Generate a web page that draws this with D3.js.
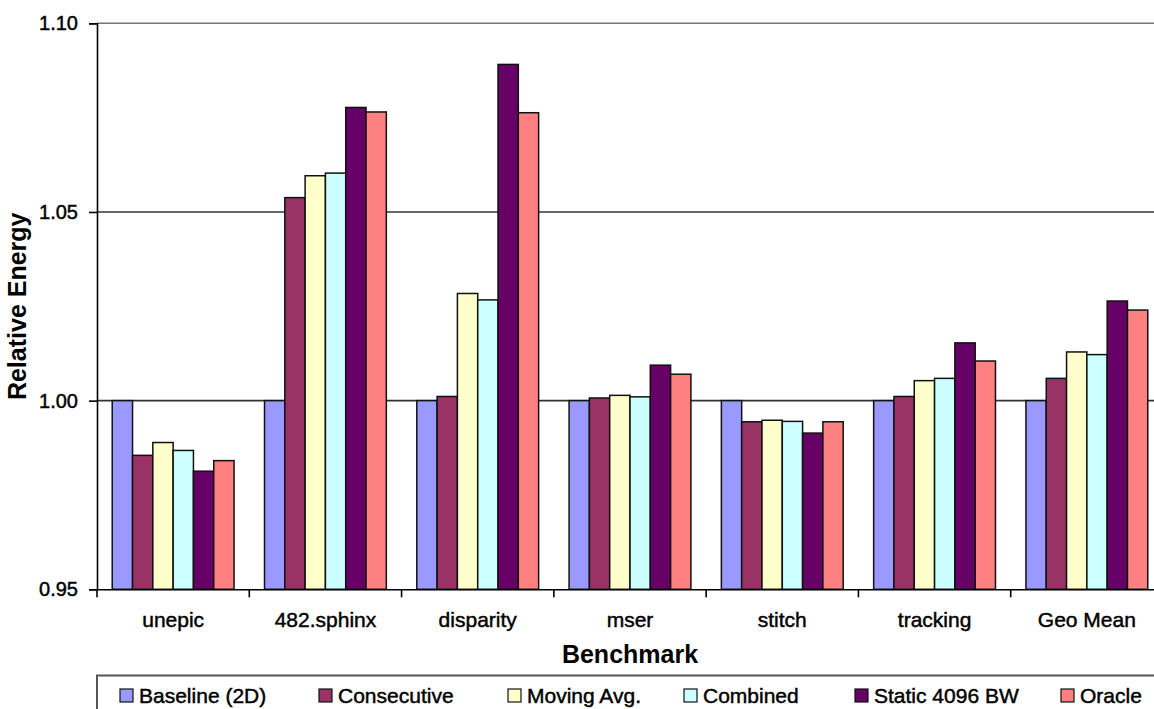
<!DOCTYPE html>
<html>
<head>
<meta charset="utf-8">
<script src="https://cdn.jsdelivr.net/npm/d3@7"></script>
<style>
  html, body { margin: 0; padding: 0; background: #fff; }
  svg { display: block; font-family: "Liberation Sans", Arial, sans-serif; }
  .heavy { stroke: #000; stroke-width: 0.45px; paint-order: fill; }
</style>
</head>
<body>
<svg id="chart" width="1154" height="709"></svg>
<script>
// Benchmarks along the category axis
const categories = ["unepic", "482.sphinx", "disparity", "mser", "stitch", "tracking", "Geo Mean"];

// Series names (legend order) and their fills
const seriesNames = ["Baseline (2D)", "Consecutive", "Moving Avg.", "Combined", "Static 4096 BW", "Oracle"];
const seriesColors = ["#9999FF", "#993366", "#FFFFCC", "#CCFFFF", "#660066", "#FF8080"];

// Relative energy per benchmark, one array per series
const baseline    = [1.000, 1.000, 1.000, 1.000, 1.000, 1.000, 1.000];
const consecutive = [0.9855, 1.0538, 1.0011, 1.0007, 0.9944, 1.0011, 1.0059];
const movingAvg   = [0.9889, 1.0596, 1.0284, 1.0014, 0.9948, 1.0053, 1.0129];
const combined    = [0.9868, 1.0603, 1.0267, 1.0010, 0.9945, 1.0059, 1.0122];
const static4096  = [0.9813, 1.0777, 1.0891, 1.0094, 0.9914, 1.0153, 1.0264];
const oracle      = [0.9841, 1.0765, 1.0763, 1.0070, 0.9944, 1.0105, 1.0240];
const seriesValues = [baseline, consecutive, movingAvg, combined, static4096, oracle];

// Value axis ticks
const yTicks = [0.95, 1.00, 1.05, 1.10];
const yTickLabels = ["0.95", "1.00", "1.05", "1.10"];

const svg = d3.select("#chart");

const plot = { left: 97, right: 1163, top: 23.3, bottom: 589.3 };

const x = d3.scaleBand()
  .domain(categories)
  .range([plot.left, plot.right])
  .paddingInner(0)
  .paddingOuter(0);

const xInner = d3.scaleBand()
  .domain(seriesNames)
  .range([0, x.bandwidth()])
  .paddingInner(0)
  .paddingOuter(0.75);

const y = d3.scaleLinear()
  .domain([0.95, 1.10])
  .range([plot.bottom, plot.top]);

// Horizontal gridlines
svg.append("g")
  .selectAll("line")
  .data(yTicks.filter(t => t > 0.95))
  .join("line")
  .attr("x1", plot.left)
  .attr("x2", plot.right)
  .attr("y1", d => y(d))
  .attr("y2", d => y(d))
  .attr("stroke", d => d === 1.10 ? "#777" : "#333")
  .attr("stroke-width", 1.6);

// Bars, rising from the bottom of the value axis
const groups = svg.append("g")
  .selectAll("g")
  .data(categories)
  .join("g")
  .attr("transform", d => `translate(${x(d)},0)`);

groups.selectAll("rect")
  .data((c, ci) => seriesNames.map((s, si) => ({ s, si, v: seriesValues[si][ci] })))
  .join("rect")
  .attr("x", d => xInner(d.s))
  .attr("width", xInner.bandwidth())
  .attr("y", d => y(d.v))
  .attr("height", d => y(0.95) - y(d.v))
  .attr("fill", d => seriesColors[d.si])
  .attr("stroke", "#111")
  .attr("stroke-width", 1.5);

// Value axis
const yAxis = svg.append("g")
  .attr("transform", `translate(${plot.left},0)`)
  .call(d3.axisLeft(y).tickValues(yTicks).tickFormat((d, i) => yTickLabels[i]).tickSize(8).tickPadding(11));
yAxis.select(".domain").attr("stroke", "#000").attr("stroke-width", 1.6);
yAxis.selectAll(".tick line").attr("stroke", "#000").attr("stroke-width", 1.6);
yAxis.selectAll(".tick text")
  .attr("class", "heavy")
  .attr("font-size", 20)
  .attr("fill", "#000")
  .attr("font-family", "Liberation Sans, Arial, sans-serif");

// Category axis
const xAxis = svg.append("g")
  .attr("transform", `translate(0,${plot.bottom})`)
  .call(d3.axisBottom(x).tickSize(0).tickPadding(23));
xAxis.select(".domain").attr("stroke", "#000").attr("stroke-width", 1.6);
xAxis.selectAll(".tick text")
  .attr("class", "heavy")
  .attr("font-size", 21)
  .attr("fill", "#000")
  .attr("font-family", "Liberation Sans, Arial, sans-serif");

// Tick marks on the category boundaries
svg.append("g")
  .selectAll("line")
  .data(categories)
  .join("line")
  .attr("x1", d => x(d))
  .attr("x2", d => x(d))
  .attr("y1", plot.bottom)
  .attr("y2", plot.bottom + 8)
  .attr("stroke", "#000")
  .attr("stroke-width", 1.6);

// Axis titles
svg.append("text")
  .attr("x", (plot.left + plot.right) / 2)
  .attr("y", 663)
  .attr("text-anchor", "middle")
  .attr("font-size", 25)
  .attr("font-weight", "bold")
  .text("Benchmark");

svg.append("text")
  .attr("transform", `translate(26,${(plot.top + plot.bottom) / 2}) rotate(-90)`)
  .attr("text-anchor", "middle")
  .attr("font-size", 25)
  .attr("font-weight", "bold")
  .text("Relative Energy");

// Legend
const legendBox = { x: 97, y: 675.5, w: 1080, h: 60 };
svg.append("rect")
  .attr("x", legendBox.x)
  .attr("y", legendBox.y)
  .attr("width", legendBox.w)
  .attr("height", legendBox.h)
  .attr("fill", "none")
  .attr("stroke", "#555")
  .attr("stroke-width", 2);

const legendX = [120, 319, 508, 684, 855, 1061];
const legendItems = svg.append("g")
  .selectAll("g")
  .data(seriesNames)
  .join("g")
  .attr("transform", (d, i) => `translate(${legendX[i]},689)`);

legendItems.append("rect")
  .attr("width", 13)
  .attr("height", 13)
  .attr("fill", (d, i) => seriesColors[i])
  .attr("stroke", "#111")
  .attr("stroke-width", 1.2);

legendItems.append("text")
  .attr("class", "heavy")
  .attr("x", 19)
  .attr("y", 14)
  .attr("font-size", 21)
  .text(d => d);
</script>
</body>
</html>
